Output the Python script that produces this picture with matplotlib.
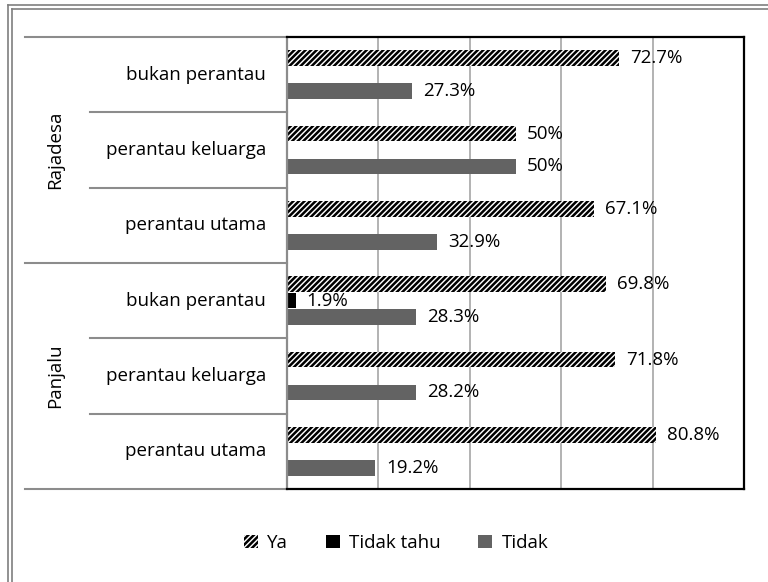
import matplotlib
matplotlib.use("Agg")
import matplotlib.pyplot as plt
from matplotlib.lines import Line2D
from matplotlib.patches import Patch
from matplotlib import transforms

plt.rcParams['font.family'] = ['Open Sans', 'DejaVu Sans']
plt.rcParams['hatch.linewidth'] = 1.8

# data (percent)
groups = ['Rajadesa', 'Panjalu']
categories = ['bukan perantau', 'perantau keluarga', 'perantau utama',
              'bukan perantau', 'perantau keluarga', 'perantau utama']
ya = [72.7, 50, 67.1, 69.8, 71.8, 80.8]
tidak_tahu = [0, 0, 0, 1.9, 0, 0]
tidak = [27.3, 50, 32.9, 28.3, 28.2, 19.2]

GRAY = '#636363'
LINE = '#8c8c8c'
FS = 13.5

fig = plt.figure(figsize=(7.68, 5.82), dpi=100)
ax = fig.add_axes([287 / 768, 1 - 489 / 582, (744 - 287) / 768, (489 - 37) / 582])

slot = 0.219
h = 0.205
pos = list(range(len(categories)))

bars_ya = ax.barh([p - slot for p in pos], [v / 100 for v in ya], height=h,
                  color='white', edgecolor='black', hatch='//////', linewidth=0)
bars_tt = ax.barh(pos, [v / 100 for v in tidak_tahu], height=h, color='black', linewidth=0)
bars_t = ax.barh([p + slot for p in pos], [v / 100 for v in tidak], height=h,
                 color=GRAY, linewidth=0)

for bars, vals in [(bars_ya, ya), (bars_tt, tidak_tahu), (bars_t, tidak)]:
    for b, v in zip(bars, vals):
        if v == 0:
            continue
        ax.annotate(f"{v:g}%", (b.get_width(), b.get_y() + b.get_height() / 2),
                    xytext=(8, 0), textcoords='offset points',
                    ha='left', va='center', fontsize=FS, color='black')

ax.set_xlim(0, 1)
ax.set_ylim(len(categories) - 0.5, -0.5)
ax.set_xticks([0.2, 0.4, 0.6, 0.8])
ax.tick_params(axis='x', length=0, labelbottom=False)
ax.set_yticks([])
ax.grid(axis='x', color='#a6a6a6', lw=1.2)
ax.set_axisbelow(True)
for s in ['top', 'right', 'bottom']:
    ax.spines[s].set_color('black')
    ax.spines[s].set_linewidth(1.6)
ax.spines['left'].set_color(LINE)
ax.spines['left'].set_linewidth(1.6)

# two-level category axis on the left
trans = transforms.blended_transform_factory(ax.transAxes, ax.transData)
x_inner = (90 - 287) / 457
x_outer = (25 - 287) / 457
for i, c in enumerate(categories):
    ax.text(-0.046, i, c, transform=trans, ha='right', va='center', fontsize=FS,
            color='black')
for yb in [0.5, 1.5, 3.5, 4.5]:
    ax.plot([x_inner, 0], [yb, yb], transform=trans, color=LINE, lw=1.5, clip_on=False)
for yb in [-0.5, 2.5, 5.5]:
    ax.plot([x_outer, 0], [yb, yb], transform=trans, color=LINE, lw=1.5, clip_on=False)
for gi, g in enumerate(groups):
    ax.text((55 - 287) / 457, gi * 3 + 1, g, transform=trans, rotation=90,
            ha='center', va='center', fontsize=FS, color='black')

# legend
handles = [Patch(facecolor='white', edgecolor='black', hatch='//////', linewidth=0),
           Patch(facecolor='black', linewidth=0),
           Patch(facecolor=GRAY, linewidth=0)]
fig.legend(handles, ['Ya', 'Tidak tahu', 'Tidak'], loc='center',
           bbox_to_anchor=(396 / 768, 1 - 543 / 582), ncol=3, frameon=False,
           fontsize=FS, handlelength=0.75, handleheight=0.75, handletextpad=0.5,
           columnspacing=2.0)

# double border (left and top)
for x in [8, 12]:
    fig.add_artist(Line2D([x / 768, x / 768], [0, 1 - (x - 3) / 582], color='#7f7f7f', lw=1.2))
for y in [5, 9]:
    fig.add_artist(Line2D([(y + 3) / 768, 1], [1 - y / 582, 1 - y / 582], color='#7f7f7f', lw=1.2))

fig.savefig('out.png', dpi=100)
